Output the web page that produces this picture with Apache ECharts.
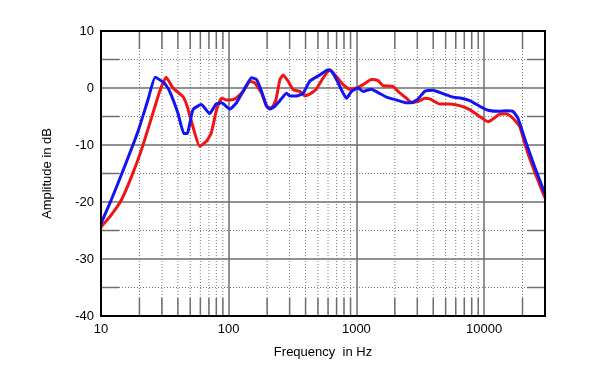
<!DOCTYPE html>
<html>
<head>
<meta charset="utf-8">
<script src="https://cdn.jsdelivr.net/npm/echarts@6/dist/echarts.min.js"></script>
<style>
html,body{margin:0;padding:0;background:#fff;}
#c{width:607px;height:375px;}
</style>
</head>
<body>
<div id="c"></div>
<script>
// Frequency points (Hz) and amplitudes (dB)
var redFreq = [10, 12, 14.4, 17.3, 20.7, 24.8, 28.8, 32.4, 36.6, 43.8, 47.3, 52.5, 59.2, 66.7, 73, 80.4, 88, 96, 112, 130, 147, 160, 181, 198, 217, 234, 252, 267, 292, 320, 360, 394, 443, 485, 550, 619, 698, 787, 888, 1000, 1128, 1312, 1479, 1618, 1937, 2120, 2466, 2710, 3043, 3428, 3754, 4490, 5380, 6440, 7713, 9240, 10730, 11450, 13240, 14940, 16830, 19030, 21410, 24880, 30000];
var redDb = [-24.4, -22.3, -19.7, -15.6, -10.9, -5.3, -0.6, 1.9, 0, -1.5, -3.2, -6.8, -10.2, -9.4, -7.9, -3.8, -1.8, -2.1, -1.9, -0.6, 1.2, 0.9, -0.9, -3.2, -3.5, -2.1, 1.5, 2.3, 1.2, -0.3, -0.6, -1.4, -0.9, -0.2, 1.8, 3.2, 2.0, 0.6, -0.2, 0, 0.6, 1.5, 1.3, 0.4, 0.3, -0.6, -1.8, -2.5, -2.4, -1.8, -1.9, -2.8, -2.8, -3.1, -3.8, -5.0, -5.9, -5.6, -4.6, -4.5, -5.3, -6.8, -10.6, -14.7, -19.3];

var blueFreq = [10, 12, 15.3, 19.5, 23.3, 26.6, 31.5, 34.5, 40, 44.6, 47.3, 52.5, 61, 70.8, 79.8, 88, 102, 115, 134, 151, 165, 181, 198, 210, 230, 252, 284, 301, 340, 383, 431, 518, 601, 640, 698, 787, 837, 916, 1031, 1128, 1312, 1479, 1719, 2060, 2466, 2710, 3043, 3428, 3983, 4767, 5709, 6641, 7713, 9240, 10730, 13240, 14940, 16830, 18420, 21410, 24880, 30000];
var blueDb = [-23.8, -19.7, -13.8, -7.6, -2.1, 1.9, 0.8, -0.6, -4.4, -8.0, -8.0, -3.8, -2.9, -4.5, -2.8, -2.6, -3.7, -2.6, 0, 1.8, 1.5, -0.6, -3.2, -3.7, -3.2, -2.2, -0.9, -1.4, -1.4, -0.9, 1.2, 2.3, 3.2, 2.9, 1.5, -0.9, -1.8, -0.6, 0, -0.6, -0.2, -0.8, -1.6, -2.1, -2.6, -2.6, -1.9, -0.6, -0.4, -1.0, -1.6, -1.8, -2.2, -3.2, -3.9, -4.1, -4.0, -4.1, -5.3, -9.7, -13.8, -18.6];

var xMajorLabels = [10, 100, 1000, 10000];
var xMinorGrid = [20, 30, 40, 50, 60, 70, 80, 90, 200, 300, 400, 500, 600, 700, 800, 900, 2000, 3000, 4000, 5000, 6000, 7000, 8000, 9000, 20000];
var yMinorGrid = [-35, -25, -15, -5, 5];

var X_MIN = 10, X_MAX = 30000, Y_MIN = -40, Y_MAX = 10;

function pairs(xs, ys){ return xs.map(function(x, i){ return [x, ys[i]]; }); }

var FONT = '"Liberation Sans", Arial, sans-serif';
var chart = echarts.init(document.getElementById('c'), null, {renderer: 'canvas'});

var gridCol = '#6e6e6e';
var dotCol = '#777777';
var TICK = 18;

chart.setOption({
  animation: false,
  backgroundColor: '#ffffff',
  grid: {left: 101, top: 31, width: 444, height: 285, show: true, borderColor: '#000', borderWidth: 2, backgroundColor: 'transparent', z: 5},
  xAxis: {
    type: 'log', logBase: 10, min: X_MIN, max: X_MAX,
    name: 'Frequency  in Hz', nameLocation: 'middle', nameGap: 30,
    nameTextStyle: {fontFamily: FONT, fontSize: 13, color: '#000'},
    axisLine: {show: true, onZero: false, lineStyle: {color: '#000', width: 2}},
    axisTick: {show: false},
    axisLabel: {fontFamily: FONT, fontSize: 13, color: '#000', margin: 7,
      formatter: function(v){ return xMajorLabels.indexOf(Math.round(v)) >= 0 ? String(Math.round(v)) : ''; }},
    splitLine: {show: true, lineStyle: {color: gridCol, width: 1.5}}
  },
  yAxis: {
    type: 'value', min: Y_MIN, max: Y_MAX, interval: 10,
    name: 'Amplitude in dB', nameLocation: 'middle', nameGap: 47,
    nameTextStyle: {fontFamily: FONT, fontSize: 13, color: '#000'},
    axisLine: {show: true, onZero: false, lineStyle: {color: '#000', width: 2}},
    axisTick: {show: false},
    axisLabel: {fontFamily: FONT, fontSize: 13, color: '#000', margin: 7},
    splitLine: {show: true, lineStyle: {color: gridCol, width: 1.5}}
  },
  series: [
    {
      type: 'custom', silent: true, z: 1,
      data: xMinorGrid.map(function(f){ return [f, 0]; }),
      renderItem: function(params, api){
        var f = api.value(0);
        var b = api.coord([f, Y_MIN]);
        var t = api.coord([f, Y_MAX]);
        return {type: 'group', children: [
          {type: 'line', shape: {x1: b[0], y1: b[1], x2: t[0], y2: t[1]}, style: {stroke: dotCol, lineWidth: 1, lineDash: [1, 2]}},
          {type: 'line', shape: {x1: b[0], y1: b[1], x2: b[0], y2: b[1] - TICK}, style: {stroke: gridCol, lineWidth: 1.5}},
          {type: 'line', shape: {x1: t[0], y1: t[1], x2: t[0], y2: t[1] + TICK}, style: {stroke: gridCol, lineWidth: 1.5}}
        ]};
      }
    },
    {
      type: 'custom', silent: true, z: 1,
      data: yMinorGrid.map(function(v){ return [100, v]; }),
      renderItem: function(params, api){
        var v = api.value(1);
        var l = api.coord([X_MIN, v]);
        var r = api.coord([X_MAX, v]);
        return {type: 'group', children: [
          {type: 'line', shape: {x1: l[0], y1: l[1], x2: r[0], y2: r[1]}, style: {stroke: dotCol, lineWidth: 1, lineDash: [1, 2]}},
          {type: 'line', shape: {x1: l[0], y1: l[1], x2: l[0] + TICK, y2: l[1]}, style: {stroke: gridCol, lineWidth: 1.5}},
          {type: 'line', shape: {x1: r[0], y1: r[1], x2: r[0] - TICK, y2: r[1]}, style: {stroke: gridCol, lineWidth: 1.5}}
        ]};
      }
    },
    {
      type: 'line', name: 'red', z: 3, smooth: 0.15, symbol: 'none',
      data: pairs(redFreq, redDb),
      lineStyle: {color: '#f01414', width: 3},
      clip: true
    },
    {
      type: 'line', name: 'blue', z: 4, smooth: 0.15, symbol: 'none',
      data: pairs(blueFreq, blueDb),
      lineStyle: {color: '#1414f0', width: 3},
      clip: true
    }
  ]
});
</script>
</body>
</html>
